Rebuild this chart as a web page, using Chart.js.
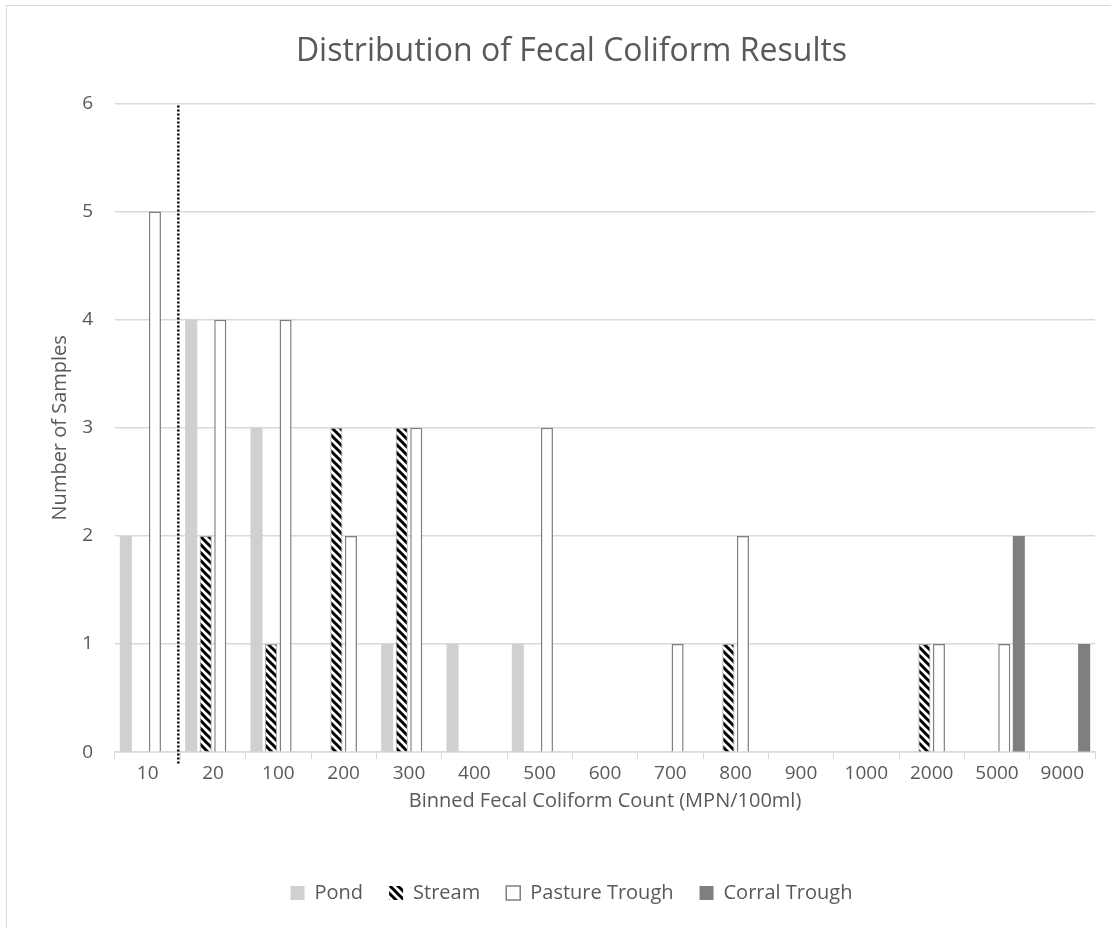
<!DOCTYPE html>
<html>
<head>
<meta charset="utf-8">
<script src="https://cdn.jsdelivr.net/npm/chart.js@4/dist/chart.umd.min.js"></script>
<style>
  body { margin: 0; background: #fff; overflow: hidden; }
  #frame { position: absolute; left: 6px; top: 5px; width: 1200px; height: 1000px; border: 1.5px solid #d9d9d9; }
  #wrap { position: absolute; left: 0; top: 0; width: 1111px; height: 928px; }
</style>
</head>
<body>
<div id="frame"></div>
<div id="wrap"><canvas id="fecal_chart" width="1111" height="928"></canvas></div>
<script>
const bins = ['10', '20', '100', '200', '300', '400', '500', '600', '700', '800', '900', '1000', '2000', '5000', '9000'];
const pond =    [2, 4, 3, 0, 1, 1, 1, 0, 0, 0, 0, 0, 0, 0, 0];
const stream =  [0, 2, 1, 3, 3, 0, 0, 0, 0, 1, 0, 0, 1, 0, 0];
const pasture = [5, 4, 4, 2, 3, 0, 3, 0, 1, 2, 0, 0, 1, 1, 0];
const corral =  [0, 0, 0, 0, 0, 0, 0, 0, 0, 0, 0, 0, 0, 2, 1];

const chartElement = document.getElementById('fecal_chart');
const textColor = '#595959';
const fontFamily = "'Open Sans', 'Noto Sans', sans-serif";

// black/white diagonal stripes for the Stream series
function makeHatch() {
  const c = document.createElement('canvas');
  c.width = 8;
  c.height = 8;
  const g = c.getContext('2d');
  g.fillStyle = '#fff';
  g.fillRect(0, 0, 8, 8);
  g.strokeStyle = '#000';
  g.lineWidth = 3;
  g.beginPath();
  g.moveTo(-4, 4); g.lineTo(4, 12);
  g.moveTo(0, 0); g.lineTo(8, 8);
  g.moveTo(4, -4); g.lineTo(12, 4);
  g.stroke();
  return g.createPattern(c, 'repeat');
}

const hatch = makeHatch();

// dotted divider between the first two bins
const dividerLine = {
  id: 'dividerLine',
  afterDatasetsDraw(chart) {
    const x = chart.scales.x;
    const area = chart.chartArea;
    const px = (x.getPixelForValue(0) + x.getPixelForValue(1)) / 2 - 2;
    const ctx = chart.ctx;
    ctx.save();
    ctx.strokeStyle = '#000';
    ctx.lineWidth = 2.5;
    ctx.setLineDash([2, 2]);
    ctx.beginPath();
    ctx.moveTo(px, area.top + 2);
    ctx.lineTo(px, area.bottom + 12);
    ctx.stroke();
    ctx.restore();
  }
};

function borderFor(width) {
  return (ctx) => (ctx.raw ? width : 0);
}

const config = {
  type: 'bar',
  data: {
    labels: bins,
    datasets: [
      { label: 'Pond', data: pond, backgroundColor: '#d0d0d0', borderColor: '#c0c0c0', borderWidth: 0 },
      { label: 'Stream', data: stream, backgroundColor: hatch, borderColor: '#a6a6a6', borderWidth: borderFor(1) },
      { label: 'Pasture Trough', data: pasture, backgroundColor: '#ffffff', borderColor: '#7f7f7f', borderWidth: borderFor(1.5) },
      { label: 'Corral Trough', data: corral, backgroundColor: '#7f7f7f', borderWidth: 0 }
    ]
  },
  options: {
    responsive: false,
    animation: false,
    categoryPercentage: 0.89,
    barPercentage: 0.83,
    layout: {
      padding: { left: 48, right: 16, top: 0, bottom: 15 }
    },
    scales: {
      x: {
        grid: { drawOnChartArea: false, color: '#d9d9d9', tickLength: 7 },
        border: { display: true, color: '#d9d9d9', width: 1.5 },
        ticks: { color: textColor, font: { family: fontFamily, size: 19 }, padding: 3, maxRotation: 0, autoSkip: false },
        title: {
          display: true,
          text: 'Binned Fecal Coliform Count (MPN/100ml)',
          color: textColor,
          font: { family: fontFamily, size: 20 },
          padding: { top: 1, bottom: 44 }
        }
      },
      y: {
        min: 0,
        max: 6,
        grid: { color: '#d9d9d9', lineWidth: 1.5, drawTicks: false },
        border: { display: false },
        ticks: { stepSize: 1, color: textColor, font: { family: fontFamily, size: 19 }, padding: 22 },
        title: {
          display: true,
          text: 'Number of Samples',
          color: textColor,
          font: { family: fontFamily, size: 20 },
          padding: 0
        },
        afterFit(scale) { scale.width = 67; }
      }
    },
    plugins: {
      title: {
        display: true,
        text: 'Distribution of Fecal Coliform Results',
        color: textColor,
        font: { family: fontFamily, size: 32, weight: 'normal' },
        padding: { top: 33, bottom: 32 }
      },
      legend: {
        position: 'bottom',
        labels: {
          color: textColor,
          font: { family: fontFamily, size: 20 },
          boxWidth: 14,
          boxHeight: 14,
          padding: 26
        }
      },
      tooltip: { enabled: false }
    }
  },
  plugins: [dividerLine]
};

const fecalChart = new Chart(chartElement, config);
</script>
</body>
</html>
